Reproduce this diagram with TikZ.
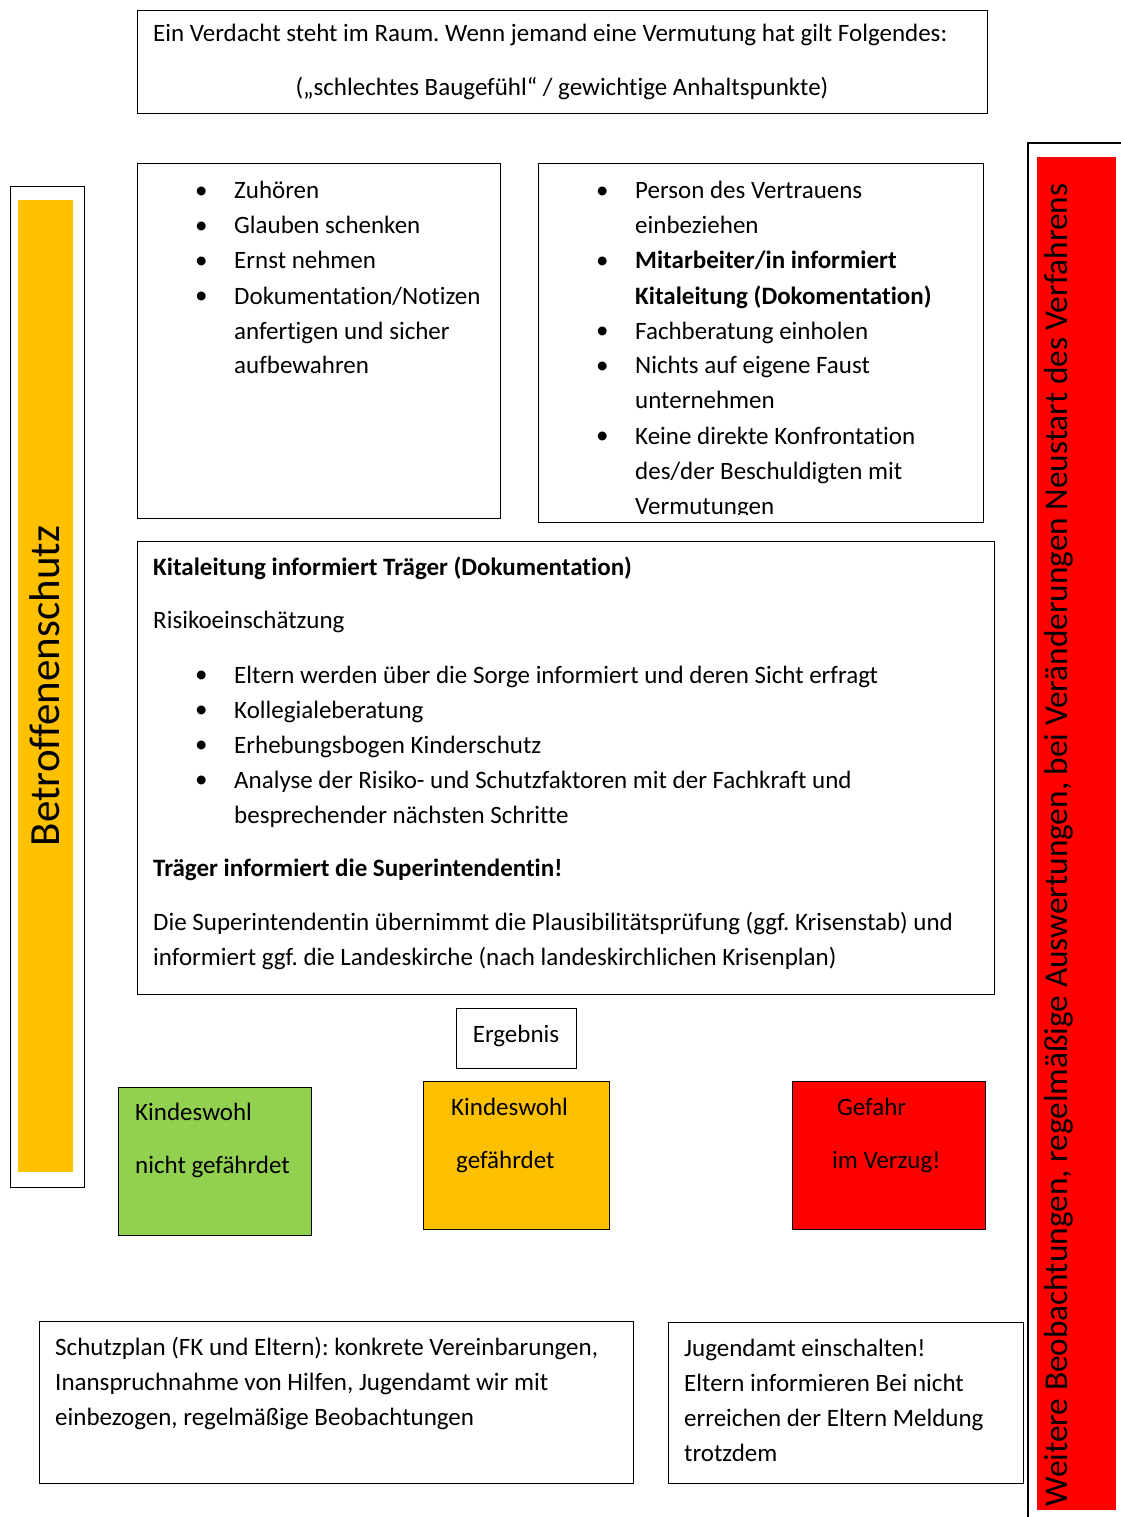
\documentclass[tikz,border=0pt]{standalone}
\usepackage{fontspec}
\setmainfont[Ligatures=NoCommon]{Carlito}
\definecolor{kgreen}{HTML}{92D050}
\definecolor{kyellow}{HTML}{FFC000}
\definecolor{kred}{HTML}{FF0000}
\newcommand{\bodysize}{\fontsize{25}{35}\selectfont}
\newcommand{\bul}{\raisebox{0.5pt}{•}}
\frenchspacing
\begin{document}
\begin{tikzpicture}[x=1pt,y=-1pt,
  box/.style={draw=black,line width=1.2pt,inner sep=0pt,anchor=north west},
  txt/.style={inner sep=0pt,anchor=base west,font=\bodysize}]
\useasboundingbox (0,0) rectangle (1121,1517);
\fill[white] (0,0) rectangle (1121,1517);

% top box
\node[box,minimum width=850,minimum height=103] (topbox) at (137,10) {};
\node[txt] (top1) at (153,42) {Ein Verdacht steht im Raum. Wenn jemand eine Vermutung hat gilt Folgendes:};
\node[txt,anchor=base] (top2) at (562,96) {(„schlechtes Baugefühl“ / gewichtige Anhaltspunkte)};

% box A
\node[box,minimum width=363,minimum height=355] (boxa) at (137,163) {};
\node[txt] (lista) at (195,199) {\begin{tabular}[t]{@{}p{39pt}@{}l@{}}
\bul & Zuhören\\
\bul & Glauben schenken\\
\bul & Ernst nehmen\\
\bul & Dokumentation/Notizen\\
 & anfertigen und sicher\\
 & aufbewahren
\end{tabular}};

% box B
\node[box,minimum width=445,minimum height=359] (boxb) at (538,163) {};
\begin{scope}
\clip (538,163) rectangle (983,514);
\node[txt] (listb) at (596,199) {\begin{tabular}[t]{@{}p{39pt}@{}l@{}}
\bul & Person des Vertrauens\\
 & einbeziehen\\
\bul & \textbf{Mitarbeiter/in informiert}\\
 & \textbf{Kitaleitung (Dokomentation)}\\
\bul & Fachberatung einholen\\
\bul & Nichts auf eigene Faust\\
 & unternehmen\\
\bul & Keine direkte Konfrontation\\
 & des/der Beschuldigten mit\\
 & Vermutungen
\end{tabular}};
\end{scope}

% box C
\node[box,minimum width=857,minimum height=453] (boxc) at (137,541) {};
\node[txt] (c1) at (153,575) {\bfseries Kitaleitung informiert Träger (Dokumentation)};
\node[txt] (c2) at (153,628) {Risikoeinschätzung};
\node[txt] (listc) at (195,683) {\begin{tabular}[t]{@{}p{39pt}@{}l@{}}
\bul & Eltern werden über die Sorge informiert und deren Sicht erfragt\\
\bul & Kollegialeberatung\\
\bul & Erhebungsbogen Kinderschutz\\
\bul & Analyse der Risiko- und Schutzfaktoren mit der Fachkraft und\\
 & besprechender nächsten Schritte
\end{tabular}};
\node[txt] (c3) at (153,876) {\bfseries Träger informiert die Superintendentin!};
\node[txt] (c4) at (153,930) {\begin{tabular}[t]{@{}l@{}}Die Superintendentin übernimmt die Plausibilitätsprüfung (ggf. Krisenstab) und\\informiert ggf. die Landeskirche (nach landeskirchlichen Krisenplan)\end{tabular}};

% Ergebnis
\node[box,minimum width=120,minimum height=60] (erg) at (456,1008) {};
\node[txt,anchor=base] (ergt) at (516,1042) {Ergebnis};

% result boxes
\node[box,fill=kgreen,minimum width=193,minimum height=148] (green) at (118,1087) {};
\node[txt] (g1) at (135,1120) {Kindeswohl};
\node[txt] (g2) at (135,1173) {nicht gefährdet};
\node[box,fill=kyellow,minimum width=186,minimum height=148] (yellow) at (423,1081) {};
\node[txt] (y1) at (451,1115) {Kindeswohl};
\node[txt] (y2) at (456,1168) {gefährdet};
\node[box,fill=kred,minimum width=193,minimum height=148] (red) at (792,1081) {};
\node[txt] (r1) at (837,1115) {Gefahr};
\node[txt] (r2) at (832,1168) {im Verzug!};

% bottom boxes
\node[box,minimum width=594,minimum height=162] (bl) at (39,1321) {};
\node[txt] (blt) at (55,1355) {\begin{tabular}[t]{@{}l@{}}Schutzplan (FK und Eltern): konkrete Vereinbarungen,\\Inanspruchnahme von Hilfen, Jugendamt wir mit\\einbezogen, regelmäßige Beobachtungen\end{tabular}};
\node[box,minimum width=355,minimum height=161] (br) at (668,1322) {};
\node[txt] (brt) at (684,1356) {\begin{tabular}[t]{@{}l@{}}Jugendamt einschalten!\\Eltern informieren Bei nicht\\erreichen der Eltern Meldung\\trotzdem\end{tabular}};

% left bar
\node[box,minimum width=74,minimum height=1001] (lframe) at (10,186) {};
\node[inner sep=0pt,anchor=north west,fill=kyellow,minimum width=55,minimum height=972] (lbar) at (18,200) {};
\node[inner sep=0pt,anchor=base,rotate=90,font=\fontsize{43}{50}\selectfont] (ltext) at (59,686) {Betroffenenschutz};

% right bar
\coordinate (rf1) at (1121,143);
\coordinate (rf2) at (1028,143);
\coordinate (rf3) at (1028,1517);
\draw[line width=1.2pt] (rf1) -- (rf2) -- (rf3);
\node[inner sep=0pt,anchor=north west,fill=kred,minimum width=79,minimum height=1353] (rbar) at (1037,157) {};
\node[inner sep=0pt,anchor=base,rotate=90,font=\fontsize{33.3}{40}\selectfont] (rtext) at (1067,845) {Weitere Beobachtungen, regelmäßige Auswertungen, bei Veränderungen Neustart des Verfahrens};
\end{tikzpicture}
\end{document}
